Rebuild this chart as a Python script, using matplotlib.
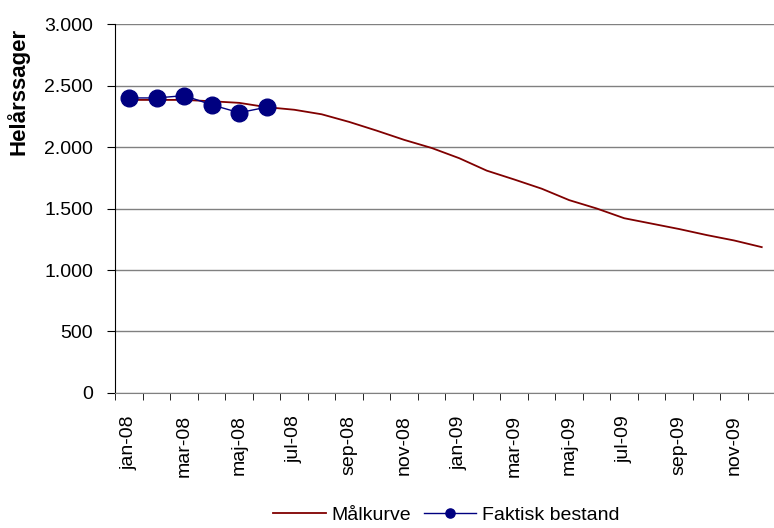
import numpy as np
import matplotlib
matplotlib.use("Agg")
from matplotlib import pyplot as plt
from matplotlib.ticker import FuncFormatter

plt.rcParams['font.family'] = ['Liberation Sans', 'DejaVu Sans']

months = ['jan-08', 'feb-08', 'mar-08', 'apr-08', 'maj-08', 'jun-08',
          'jul-08', 'aug-08', 'sep-08', 'okt-08', 'nov-08', 'dec-08',
          'jan-09', 'feb-09', 'mar-09', 'apr-09', 'maj-09', 'jun-09',
          'jul-09', 'aug-09', 'sep-09', 'okt-09', 'nov-09', 'dec-09']
maalkurve = [2383, 2383, 2383, 2372, 2359, 2324, 2303, 2266, 2204, 2133, 2058, 1992,
             1909, 1808, 1736, 1661, 1568, 1500, 1421, 1377, 1333, 1284, 1240, 1186]
faktisk = [2399, 2399, 2418, 2343, 2279, 2324]

fig = plt.figure(figsize=(7.74, 5.28), dpi=100)
ax = fig.add_axes([0.1492, 0.2557, 0.8527, 0.6988])

x = np.arange(len(months))
ax.plot(x, maalkurve, color='#800000', linewidth=1.3, label='Målkurve', zorder=3)
ax.plot(x[:len(faktisk)], faktisk, color='#000080', linewidth=1, marker='o',
        markersize=12, label='Faktisk bestand', zorder=4)

ax.set_xlim(-0.5, len(months) - 0.5)
ax.set_ylim(0, 3000)
ax.set_yticks(np.arange(0, 3001, 500))
ax.yaxis.set_major_formatter(FuncFormatter(lambda v, p: f'{int(v):,}'.replace(',', '.')))
ax.grid(axis='y', color='#808080', linewidth=1)
ax.set_axisbelow(True)

ax.set_xticks(x[::2])
ax.set_xticklabels(months[::2], rotation=90, fontsize=14)
ax.set_xticks(np.arange(-0.5, len(months), 1), minor=True)
ax.tick_params(axis='x', which='major', length=0, pad=16)
ax.tick_params(axis='x', which='minor', length=5, color='black')
ax.tick_params(axis='y', length=6, labelsize=14, pad=10)

for s in ['top', 'right']:
    ax.spines[s].set_visible(False)
ax.spines['bottom'].set_color('#808080')
ax.spines['left'].set_color('black')

ax.set_ylabel('Helårssager', fontsize=16, fontweight='bold')
ax.yaxis.set_label_coords(-0.131, 0.816)

fig.legend(loc='center', bbox_to_anchor=(0.577, 0.024), ncol=2, frameon=False,
           fontsize=14, handlelength=2.7, columnspacing=0.65, handletextpad=0.3,
           markerscale=0.55)

fig.savefig('out.png', dpi=100)
